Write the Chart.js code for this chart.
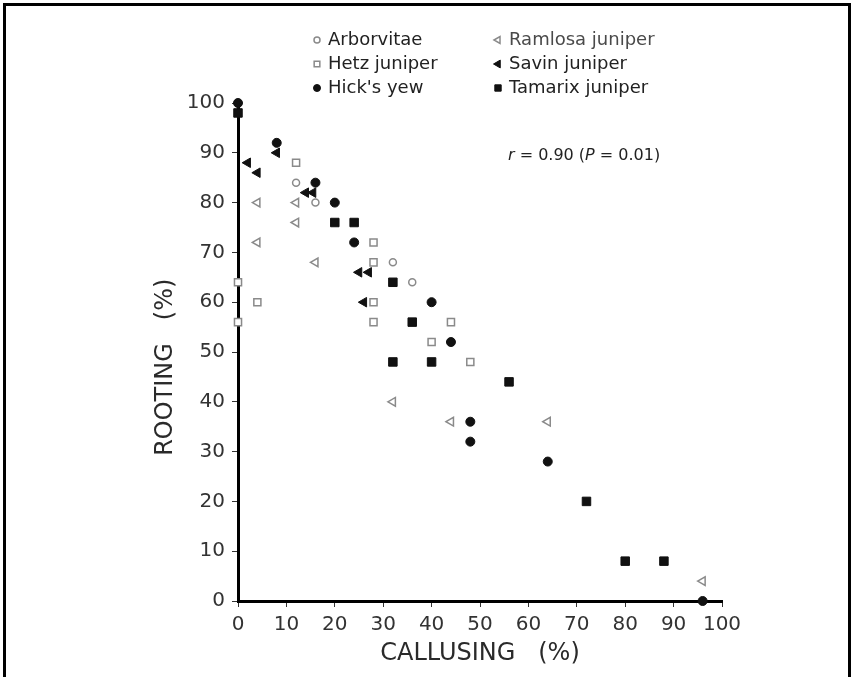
<!DOCTYPE html>
<html>
<head>
<meta charset="utf-8">
<title>Rooting vs callusing</title>
<script src="https://cdn.jsdelivr.net/npm/chart.js@4.4.0/dist/chart.umd.min.js"></script>
<style>
  html, body { margin: 0; padding: 0; background: #ffffff; }
  #wrap { position: relative; width: 859px; height: 677px; overflow: hidden; }
  #frame {
    position: absolute; left: 3px; top: 3px; width: 848px; height: 700px;
    border: 3px solid #000; box-sizing: border-box; pointer-events: none;
  }
</style>
</head>
<body>
<div id="wrap">
  <canvas id="chart"></canvas>
  <div id="frame"></div>
</div>
<script>
// callusing (%) = x, rooting (%) = y, one pair of arrays per species
const arborvitaeCallus = [12, 16, 32, 36];
const arborvitaeRoot = [84, 80, 68, 64];

const hetzCallus = [0, 0, 4, 12, 28, 28, 28, 28, 40, 44, 48];
const hetzRoot = [64, 56, 60, 88, 72, 68, 60, 56, 52, 56, 48];

const hicksCallus = [0, 8, 16, 20, 24, 40, 44, 48, 48, 64, 96];
const hicksRoot = [100, 92, 84, 80, 72, 60, 52, 36, 32, 28, 0];

const ramlosaCallus = [4, 4, 12, 12, 16, 32, 44, 64, 96];
const ramlosaRoot = [80, 72, 80, 76, 68, 40, 36, 36, 4];

const savinCallus = [2, 4, 8, 14, 15.5, 25, 27, 26];
const savinRoot = [88, 86, 90, 82, 82, 66, 66, 60];

const tamarixCallus = [0, 20, 24, 32, 36, 32, 40, 56, 72, 80, 88];
const tamarixRoot = [98, 76, 76, 64, 56, 48, 48, 44, 20, 8, 8];

const speciesNames = ["Arborvitae", "Hetz juniper", "Hick's yew", "Ramlosa juniper", "Savin juniper", "Tamarix juniper"];
const axisTicks = [0, 10, 20, 30, 40, 50, 60, 70, 80, 90, 100];
const statText = ["r", " = 0.90 (", "P", " = 0.01)"];

const pairs = (xs, ys) => xs.map((x, i) => ({ x: x, y: ys[i] }));

const FONT = '"DejaVu Sans", sans-serif';
const GREY = "#8a8a8a";

const ctx = document.getElementById("chart").getContext("2d");

// legend in two columns of three, plus the r/P note
const notesPlugin = {
  id: "notes",
  afterDraw(chart) {
    const c = chart.ctx;
    c.save();
    c.font = "18px " + FONT;
    c.textBaseline = "middle";
    chart.data.datasets.forEach((ds, i) => {
      const col = Math.floor(i / 3);
      const row = i % 3;
      const mx = col === 0 ? 317 : 498;
      const y = 40 + row * 24;
      c.fillStyle = ds.backgroundColor;
      c.strokeStyle = ds.borderColor;
      c.lineWidth = ds.borderWidth;
      Chart.helpers.drawPoint(c, {
        pointStyle: ds.pointStyle,
        radius: ds.legendRadius,
        rotation: ds.pointRotation || 0,
        borderWidth: ds.borderWidth,
      }, mx, y);
      c.fillStyle = i === 3 ? "#4a4a4a" : "#222222";
      c.fillText(ds.label, mx + 11, y);
    });

    c.font = "15px " + FONT;
    c.fillStyle = "#222222";
    let x = 508;
    statText.forEach((part, i) => {
      c.font = (i % 2 === 0 ? "italic " : "") + "16px " + FONT;
      c.fillText(part, x, 156);
      x += c.measureText(part).width;
    });
    c.restore();
  },
};

const chart = new Chart(ctx, {
  type: "scatter",
  data: {
    datasets: [
      {
        label: speciesNames[0],
        data: pairs(arborvitaeCallus, arborvitaeRoot),
        pointStyle: "circle",
        pointRadius: 3.5,
        legendRadius: 3,
        backgroundColor: "#ffffff",
        borderColor: GREY,
        borderWidth: 1.5,
        order: 1,
      },
      {
        label: speciesNames[1],
        data: pairs(hetzCallus, hetzRoot),
        pointStyle: "rect",
        pointRadius: 5,
        legendRadius: 4,
        backgroundColor: "#ffffff",
        borderColor: GREY,
        borderWidth: 1.5,
        order: 1,
      },
      {
        label: speciesNames[2],
        data: pairs(hicksCallus, hicksRoot),
        pointStyle: "circle",
        pointRadius: 4.5,
        legendRadius: 3.5,
        backgroundColor: "#111111",
        borderColor: "#111111",
        borderWidth: 1,
        order: 0,
      },
      {
        label: speciesNames[3],
        data: pairs(ramlosaCallus, ramlosaRoot),
        pointStyle: "triangle",
        pointRotation: -90,
        pointRadius: 5,
        legendRadius: 4,
        backgroundColor: "#ffffff",
        borderColor: GREY,
        borderWidth: 1.5,
        order: 1,
      },
      {
        label: speciesNames[4],
        data: pairs(savinCallus, savinRoot),
        pointStyle: "triangle",
        pointRotation: -90,
        pointRadius: 5.5,
        legendRadius: 4.5,
        backgroundColor: "#111111",
        borderColor: "#111111",
        borderWidth: 1,
        order: 0,
      },
      {
        label: speciesNames[5],
        data: pairs(tamarixCallus, tamarixRoot),
        pointStyle: "rect",
        pointRadius: 6,
        legendRadius: 4.5,
        backgroundColor: "#111111",
        borderColor: "#111111",
        borderWidth: 1,
        order: 0,
      },
    ],
  },
  options: {
    responsive: true,
    maintainAspectRatio: false,
    animation: false,
    clip: false,
    layout: { padding: { left: 150, right: 137, top: 103, bottom: 0 } },
    plugins: {
      legend: { display: false },
      tooltip: { enabled: false },
    },
    scales: {
      x: {
        type: "linear",
        min: 0,
        max: 100,
        afterFit: (s) => { s.height = 76; },
        afterBuildTicks: (s) => { s.ticks = axisTicks.map((v) => ({ value: v })); },
        title: {
          display: true,
          text: "CALLUSING   (%)",
          color: "#2a2a2a",
          font: { size: 24, family: FONT },
          padding: { top: 0, bottom: 9 },
        },
        ticks: {
          color: "#333333",
          padding: 6,
          font: { size: 20, family: FONT },
        },
        grid: { drawOnChartArea: false, drawTicks: true, tickLength: 6, tickColor: "#333333", tickWidth: 1 },
        border: { color: "#000000", width: 3 },
      },
      y: {
        type: "linear",
        min: 0,
        max: 100,
        afterFit: (s) => { s.width = 88; },
        afterBuildTicks: (s) => { s.ticks = axisTicks.map((v) => ({ value: v })); },
        title: {
          display: true,
          text: "ROOTING   (%)    ",
          color: "#2a2a2a",
          font: { size: 24, family: FONT },
          padding: { top: 1, bottom: 0 },
        },
        ticks: {
          color: "#333333",
          padding: 7,
          font: { size: 20, family: FONT },
        },
        grid: { drawOnChartArea: false, drawTicks: true, tickLength: 6, tickColor: "#333333", tickWidth: 1 },
        border: { color: "#000000", width: 3 },
      },
    },
  },
  plugins: [notesPlugin],
});
</script>
</body>
</html>
